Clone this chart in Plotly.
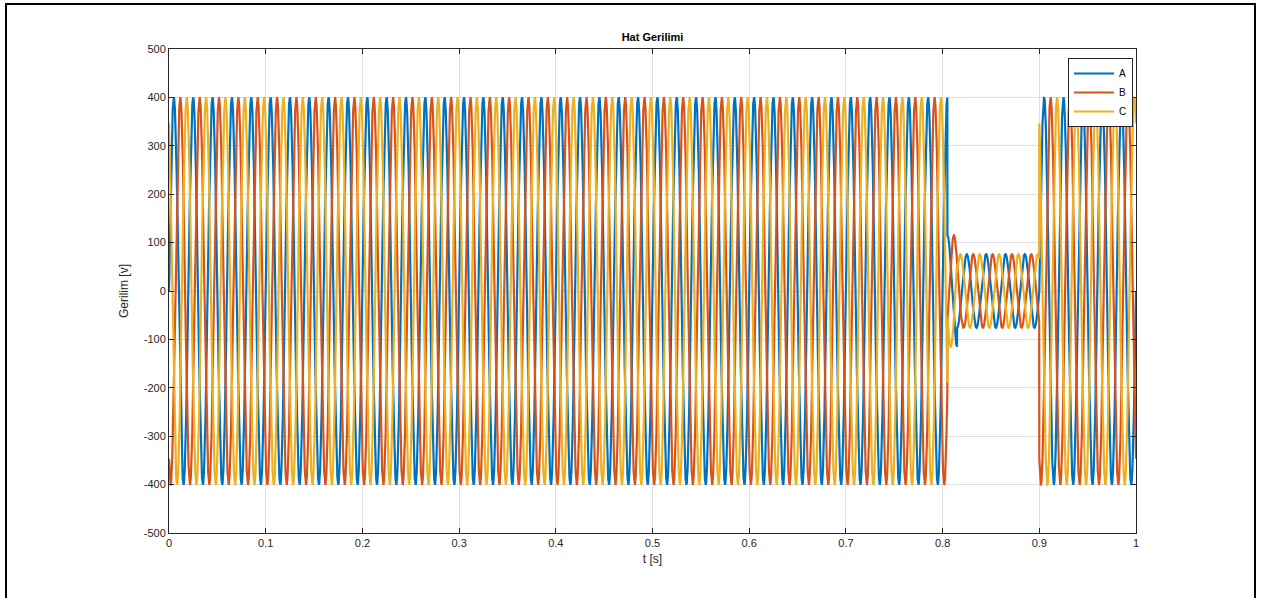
import numpy as np
import plotly.graph_objects as go

# ---- data ----
series_names = ["A", "B", "C"]
series_colors = ["#0072BD", "#D95319", "#EDB120"]
phase_deg = [0, -120, 120]          # phase of each line at t=0
freq_hz = 50                        # ~19.4 px per cycle -> 0.02 s period
seg_start = [0.0, 0.805, 0.815, 0.900]   # segment start times [s]
seg_end = [0.805, 0.815, 0.900, 1.000]   # segment end times [s]
seg_amp = [400, 115, 76, 400]            # peak voltage in each segment [V]
x_ticks = [0, 0.1, 0.2, 0.3, 0.4, 0.5, 0.6, 0.7, 0.8, 0.9, 1]
x_tick_text = ["0", "0.1", "0.2", "0.3", "0.4", "0.5", "0.6", "0.7", "0.8", "0.9", "1"]
y_ticks = [-500, -400, -300, -200, -100, 0, 100, 200, 300, 400, 500]
y_tick_text = ["-500", "-400", "-300", "-200", "-100", "0", "100", "200", "300", "400", "500"]

# ---- build waveform ----
t = np.arange(0, 1.0 + 1e-9, 1e-4)
amp = np.zeros_like(t)
for s, e, a in zip(seg_start, seg_end, seg_amp):
    amp[(t >= s) & (t <= e)] = a

fig = go.Figure()
for name, col, ph in zip(series_names, series_colors, phase_deg):
    v = amp * np.sin(2 * np.pi * freq_hz * t + np.deg2rad(ph))
    fig.add_trace(go.Scatter(x=t, y=v, mode="lines", name=name,
                             line=dict(color=col, width=2.2)))

W, H = 1272, 598
L, R, T, B = 169, 1136, 49, 533
pw, ph_ = R - L, B - T

def px(x):
    return (x - L) / pw

def py(y):
    return (B - y) / ph_

FONT = "Liberation Sans, Arial"
axis_common = dict(showline=True, mirror="ticks", linecolor="#262626", linewidth=1,
                   ticks="inside", ticklen=5, tickcolor="#262626",
                   showgrid=True, gridcolor="#DFDFDF", gridwidth=1, zeroline=False,
                   tickfont=dict(family=FONT, size=11, color="#262626"))

fig.update_layout(
    width=W, height=H,
    margin=dict(l=L, r=W - R, t=T, b=H - B, pad=0),
    paper_bgcolor="white", plot_bgcolor="white",
    title=dict(text="<b>Hat Gerilimi</b>", x=0.5, xref="paper", xanchor="center",
               y=1 - 37 / H, yanchor="middle",
               font=dict(family=FONT, size=11, color="#000000")),
    xaxis=dict(range=[0, 1], tickvals=x_ticks, ticktext=x_tick_text,
               title=dict(text="t [s]", font=dict(family=FONT, size=12, color="#262626"), standoff=6),
               **axis_common),
    yaxis=dict(range=[-500, 500], tickvals=y_ticks, ticktext=y_tick_text,
               title=dict(text="Gerilim [v]", font=dict(family=FONT, size=12, color="#262626"), standoff=12),
               **axis_common),
    legend=dict(x=px(1133), y=py(58), xanchor="right", yanchor="top",
                bgcolor="white", bordercolor="#262626", borderwidth=1,
                font=dict(family=FONT, size=10, color="#000000"),
                tracegroupgap=0, itemwidth=40),
    showlegend=True,
)

# outer frame around the whole figure
fig.add_shape(type="rect", xref="paper", yref="paper",
              x0=px(6), x1=px(1255), y0=py(602), y1=py(4),
              line=dict(color="#000000", width=2), fillcolor="rgba(0,0,0,0)", layer="above")

fig.write_html("out.html", config={"displayModeBar": False},
               post_script="document.body.style.margin='0';document.body.style.overflow='hidden';")
